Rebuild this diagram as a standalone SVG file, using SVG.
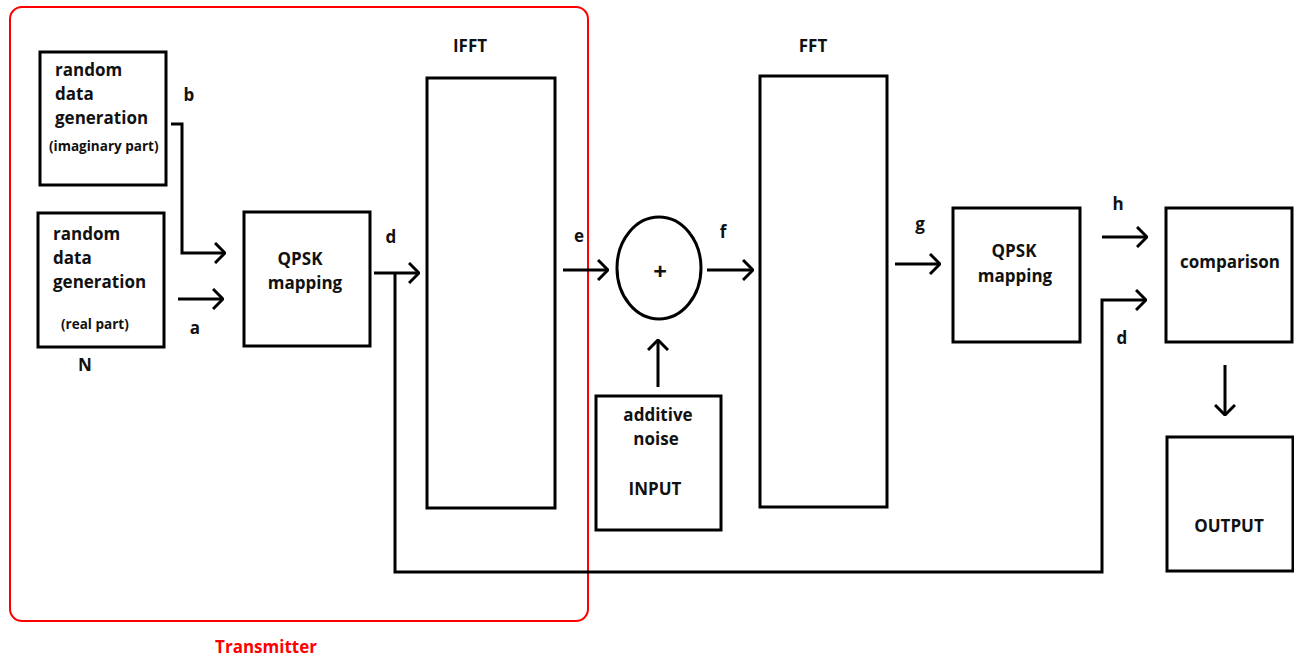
<svg xmlns="http://www.w3.org/2000/svg" width="1294" height="656" viewBox="0 0 1294 656">
<style>
.box{fill:none;stroke:#000;stroke-width:3}
.ln{fill:none;stroke:#000;stroke-width:3}
text{font-family:"Open Sans","Liberation Sans",sans-serif;font-weight:bold;fill:#111;font-size:17px}
.sm{font-size:13.5px}
.c{text-anchor:middle}
</style>
<defs>
<marker id="ah" viewBox="0 0 12 22" refX="11" refY="11" markerWidth="12" markerHeight="22" markerUnits="userSpaceOnUse" orient="auto">
<path d="M1,1 L11,11 L1,21" fill="none" stroke="#000" stroke-width="3"/>
</marker>
</defs>
<rect width="1294" height="656" fill="#fff"/>
<g id="transmitter">
<rect x="10" y="7" width="578" height="614" rx="12" fill="none" stroke="#f00" stroke-width="2"/>
<text x="266" y="653" class="c" style="fill:#f00;font-size:17px">Transmitter</text>
</g>
<g id="gen-imag">
<rect class="box" x="40" y="52" width="126" height="133"/>
<text x="55" y="76">random</text>
<text x="55" y="100">data</text>
<text x="55" y="124">generation</text>
<text x="49" y="151" class="sm">(imaginary part)</text>
</g>
<g id="gen-real">
<rect class="box" x="38" y="213" width="126" height="134"/>
<text x="53" y="240">random</text>
<text x="53" y="264">data</text>
<text x="53" y="288">generation</text>
<text x="61" y="329" class="sm">(real part)</text>
<text x="85" y="371" class="c">N</text>
</g>
<g id="qpsk1">
<rect class="box" x="244" y="212" width="126" height="134"/>
<text x="300" y="265" class="c">QPSK</text>
<text x="305" y="289" class="c">mapping</text>
</g>
<g id="ifft">
<rect class="box" x="427" y="78" width="128" height="430"/>
<text x="470" y="52" class="c">IFFT</text>
</g>
<g id="adder">
<ellipse class="box" cx="659" cy="268" rx="42" ry="51"/>
<text x="660" y="280" class="c" style="font-size:24px">+</text>
</g>
<g id="noise">
<rect class="box" x="596" y="396" width="125" height="134"/>
<text x="658" y="421" class="c">additive</text>
<text x="656" y="445" class="c">noise</text>
<text x="655" y="495" class="c">INPUT</text>
</g>
<g id="fft">
<rect class="box" x="760" y="76" width="127" height="431"/>
<text x="813" y="52" class="c">FFT</text>
</g>
<g id="qpsk2">
<rect class="box" x="953" y="208" width="127" height="134"/>
<text x="1014" y="257" class="c">QPSK</text>
<text x="1015" y="282" class="c">mapping</text>
</g>
<g id="comparison">
<rect class="box" x="1166" y="208" width="126" height="134"/>
<text x="1230" y="268" class="c">comparison</text>
</g>
<g id="output">
<rect class="box" x="1167" y="437" width="126" height="134"/>
<text x="1229" y="532" class="c">OUTPUT</text>
</g>
<g id="connectors">
<path class="ln" d="M171,124 H182 V253 H225" marker-end="url(#ah)"/>
<path class="ln" d="M178,299 H223" marker-end="url(#ah)"/>
<path class="ln" d="M374,273 H419" marker-end="url(#ah)"/>
<path class="ln" d="M395,273 V572 H1102 V300 H1146" marker-end="url(#ah)"/>
<path class="ln" d="M563,270 H608" marker-end="url(#ah)"/>
<path class="ln" d="M707,270 H753" marker-end="url(#ah)"/>
<path class="ln" d="M658,387 V340" marker-end="url(#ah)"/>
<path class="ln" d="M895,264 H940" marker-end="url(#ah)"/>
<path class="ln" d="M1102,237 H1147" marker-end="url(#ah)"/>
<path class="ln" d="M1225,365 V415" marker-end="url(#ah)"/>
<text x="189" y="101" class="c">b</text>
<text x="195" y="334" class="c">a</text>
<text x="391" y="243" class="c">d</text>
<text x="579" y="242" class="c">e</text>
<text x="723" y="238" class="c">f</text>
<text x="920" y="230" class="c">g</text>
<text x="1118" y="210" class="c">h</text>
<text x="1122" y="344" class="c">d</text>
</g>
</svg>
